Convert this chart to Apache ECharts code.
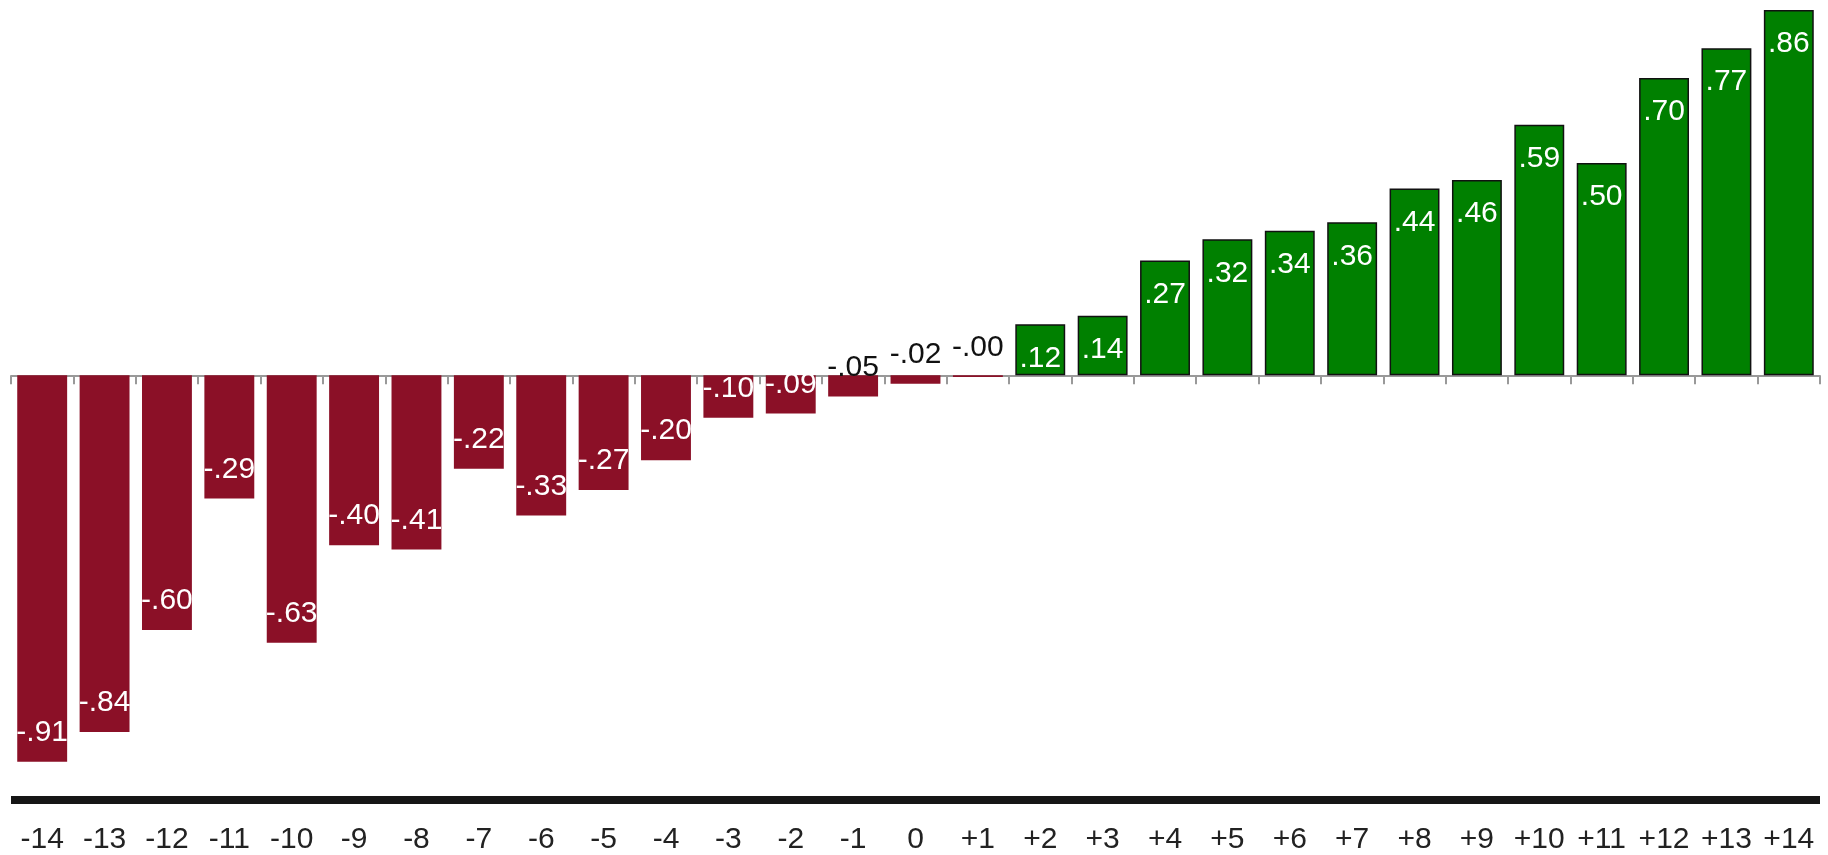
<!DOCTYPE html>
<html>
<head>
<meta charset="utf-8">
<script src="https://cdn.jsdelivr.net/npm/echarts@6/dist/echarts.min.js"></script>
<style>
  html, body { margin: 0; padding: 0; background: #fff; }
  #chart { width: 1828px; height: 855px; }
</style>
</head>
<body>
<div id="chart"></div>
<script>
  const categories = ['-14', '-13', '-12', '-11', '-10', '-9', '-8', '-7', '-6', '-5', '-4', '-3', '-2', '-1', '0',
    '+1', '+2', '+3', '+4', '+5', '+6', '+7', '+8', '+9', '+10', '+11', '+12', '+13', '+14'];
  const values = [-0.91, -0.84, -0.60, -0.29, -0.63, -0.40, -0.41, -0.22, -0.33, -0.27, -0.20, -0.10, -0.09, -0.05, -0.02,
    -0.004, 0.12, 0.14, 0.27, 0.32, 0.34, 0.36, 0.44, 0.46, 0.59, 0.50, 0.70, 0.77, 0.86];
  // bars too short to hold their label: text sits outside in black
  const outsideLabels = ['-1', '0', '+1'];

  const RED = '#8B1027';
  const GREEN = '#008000';
  const FONT = '"Liberation Sans", Arial, sans-serif';

  function fmt(v) {
    const s = Math.abs(v).toFixed(2).replace(/^0/, '');
    return (v < 0 ? '-' : '') + s;
  }

  const barData = values.map((v, i) => {
    const neg = v < 0;
    return {
      value: v,
      itemStyle: neg
        ? { color: RED, borderWidth: 0 }
        : { color: GREEN, borderColor: '#111', borderWidth: 1.5 },
      label: {
        position: neg ? 'insideBottom' : 'insideTop',
        distance: neg ? 14 : 19,
        color: outsideLabels.includes(categories[i]) ? '#111' : '#fff'
      }
    };
  });

  const chart = echarts.init(document.getElementById('chart'));
  chart.setOption({
    animation: false,
    grid: { left: 11, right: 8, top: 10, bottom: 54, containLabel: false },
    xAxis: [
      {
        type: 'category',
        data: categories,
        position: 'bottom',
        axisLine: { onZero: false, lineStyle: { color: '#161616', width: 8, cap: 'butt' } },
        axisTick: { show: false },
        axisLabel: { color: '#222', fontSize: 30, fontFamily: FONT, margin: 25, interval: 0 }
      },
      {
        type: 'category',
        data: categories,
        position: 'top',
        axisLine: { onZero: true, lineStyle: { color: '#999', width: 2, cap: 'butt' } },
        axisTick: { show: true, inside: true, length: 9, lineStyle: { color: '#999', width: 2 } },
        axisLabel: { show: false }
      }
    ],
    yAxis: {
      type: 'value',
      min: -1,
      max: 0.86,
      show: false,
      splitLine: { show: false }
    },
    series: [
      {
        type: 'bar',
        xAxisIndex: 0,
        data: barData,
        barCategoryGap: '20%',
        label: {
          show: true,
          fontSize: 30,
          fontFamily: FONT,
          formatter: p => fmt(p.value)
        }
      }
    ]
  });
</script>
</body>
</html>
